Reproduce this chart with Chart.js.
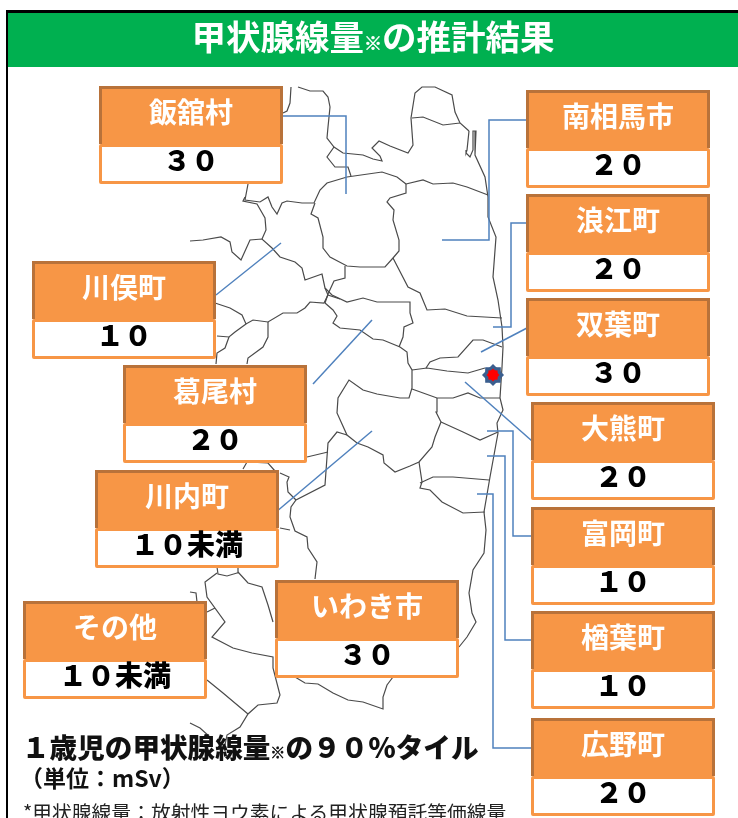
<!DOCTYPE html>
<html lang="ja">
<head>
<meta charset="utf-8">
<title>甲状腺線量の推計結果</title>
<script src="https://cdn.jsdelivr.net/npm/chart.js@4"></script>
<style>
    html, body { margin: 0; padding: 0; background: #fff; width: 738px; height: 818px; overflow: hidden; }
    body { position: relative; font-family: "Noto Sans CJK JP", "Noto Sans", sans-serif; }
    #frame { position: absolute; left: 6px; top: 10px; width: 732px; height: 808px; border-left: 2px solid #000; border-top: 3px solid #000; box-sizing: border-box; }
    #title { position: absolute; left: 8px; top: 13px; width: 730px; height: 54px; background: #00b050; color: #fff; font-size: 34.5px; font-weight: 700; line-height: 45px; text-align: center; }
    #title small { font-size: 18px; -webkit-text-stroke: 0.5px #fff; }
    #heading small { font-size: 15px; -webkit-text-stroke: 0.5px #111; }
    #mapChart { position: absolute; left: 0; top: 0; }
    .box { position: absolute; width: 184px; height: 98px; box-sizing: border-box; text-align: center; font-weight: 700; }
    .box .name { height: 58px; box-sizing: border-box; background: #f79646; color: #fff; border: 3px solid #b8723a; border-bottom: 0; font-size: 28px; line-height: 45px; }
    .box .dose { height: 40px; box-sizing: border-box; background: #fff; color: #000; border: 3px solid #f79646; border-radius: 2px; font-size: 28px; font-weight: 900; line-height: 25px; }
    #heading { position: absolute; left: 22px; top: 727px; font-size: 27.6px; font-weight: 900; line-height: 38px; color: #111; white-space: nowrap; }
    #unit { position: absolute; left: 20px; top: 762px; font-size: 23px; font-weight: 700; line-height: 30px; color: #111; white-space: nowrap; }
    #note { position: absolute; left: 23px; top: 798px; font-size: 19.8px; line-height: 28px; color: #222; white-space: nowrap; }
</style>
</head>
<body>
<div id="frame"></div>
<canvas id="mapChart" width="738" height="818"></canvas>
<div id="title">甲状腺線量<small>※</small>の推計結果</div>
<div id="boxes"></div>
<div id="heading">１歳児の甲状腺線量<small>※</small>の９０％タイル</div>
<div id="unit">（単位：mSv）</div>
<div id="note">*甲状腺線量：放射性ヨウ素による甲状腺預託等価線量</div>

<script>
// Municipalities and their 90th percentile thyroid dose
const towns = ['飯舘村', '南相馬市', '浪江町', '双葉町', '大熊町', '富岡町', '楢葉町', '広野町', '川俣町', '葛尾村', '川内町', 'いわき市', 'その他'];
const doses = ['３０', '２０', '２０', '３０', '２０', '１０', '１０', '２０', '１０', '２０', '１０未満', '３０', '１０未満'];

// Label box corners, same order as towns
const boxLeft = [99, 526, 526, 526, 531, 531, 531, 531, 32, 123, 95, 275, 23];
const boxTop = [86, 90, 194, 298, 402, 507, 611, 718, 261, 365, 470, 580, 601];

// Municipal boundaries (x, y on a 738 x 818 grid)
const coast = [[469,131],[467,150],[466,153],[470,157],[473,150],[473,131],[476,131],[475,155],[485,177],[488,197],[488,217],[496,237],[493,277],[498,300],[502,327],[503,347],[502,367],[500,398],[503,410],[497,423],[498,433],[490,477],[484,512],[486,530],[484,553],[473,570],[469,593],[472,613],[476,622],[467,637],[459,647]];
const iitateNorth = [[291,87],[290,103],[287,111],[283,113]];
const somaWest = [[298,87],[310,91],[323,91],[328,97],[330,107],[328,127],[327,138],[334,147],[343,153],[363,155],[373,159],[382,161],[380,156],[372,148],[379,141],[390,146],[408,153],[413,145],[411,118],[415,93],[422,87],[435,87],[452,95],[455,112],[460,123],[469,131]];
const somaInner = [[412,118],[423,117],[443,125],[460,123]];
const shinchiLoop = [[334,147],[327,157],[335,167],[348,167],[351,176]];
const iitateTop = [[248,184],[245,200],[260,202],[268,197],[272,207],[277,214],[282,203],[287,201],[302,203],[314,203],[320,190],[327,183],[347,177],[382,172],[397,177],[406,184]];
const iitateRing = [[315,203],[311,214],[318,218],[323,237],[323,248],[330,257],[347,266],[360,267],[385,267],[393,258],[399,251],[399,240],[393,220],[394,210],[387,202],[390,198],[406,193],[406,184]];
const minamisomaSouth = [[406,184],[423,180],[433,184],[453,183],[467,187],[488,195]];
const kawamataEast = [[245,197],[243,201],[257,204],[265,218],[266,230],[262,239]];
const kawamataNorth = [[190,241],[203,240],[221,237],[230,242],[232,252],[241,260],[250,240],[262,239],[272,248],[280,257],[295,262],[302,268],[305,280],[322,274],[325,288],[328,295],[340,299]];
const ringDrop = [[345,266],[345,278],[334,281],[328,294],[325,303]];
const namieNorth = [[393,258],[408,287],[420,293],[427,310],[445,309],[467,316],[502,318]];
const namieWest = [[325,288],[332,295],[347,302],[363,298],[377,302],[410,302],[410,313],[413,323],[404,327],[403,337],[399,347]];
const katsuraoNorth = [[215,303],[230,308],[242,315],[246,324],[253,320],[268,322],[283,313],[297,313],[305,308],[310,302],[324,303],[328,295]];
const tamuraA = [[246,324],[235,332],[229,337],[217,336]];
const tamuraB = [[229,337],[225,348],[217,353],[216,364]];
const tamuraC = [[268,322],[268,337],[263,347],[248,358],[247,364]];
const katsuraoRing = [[325,303],[333,310],[337,316],[333,323],[340,328],[360,330],[373,339],[383,340],[400,347],[407,352],[408,363],[412,370],[412,388],[409,398],[400,398],[377,394],[363,390],[349,380],[338,398],[337,413],[347,435],[357,443],[368,447],[383,455],[384,463],[395,472],[410,466],[419,462],[432,447],[435,437],[441,422],[436,412],[437,398]];
const futabaMid = [[412,370],[427,368],[447,371],[468,373],[485,368]];
const futabaNorth = [[426,368],[430,362],[440,358],[458,357],[473,340],[483,340],[502,347]];
const okumaNorth = [[412,389],[437,398],[453,398],[468,393],[480,398],[500,398]];
const okumaSouth = [[441,422],[463,432],[480,440],[498,432]];
const naraha = [[419,462],[422,482],[420,488],[430,490],[442,502],[463,513],[485,512]];
const tomioka = [[420,483],[433,477],[453,477],[489,480]];
const iwakiWest = [[315,579],[317,562],[308,548],[307,537],[295,531],[290,517],[291,507],[296,500],[325,485],[328,443],[337,432],[347,435]];
const kawauchiEdge = [[296,500],[288,492],[287,482],[289,477],[280,473]];
const kawauchiStub = [[290,530],[280,528]];
const katsuraoStub = [[328,452],[307,457]];
const onoTop = [[243,469],[247,462],[268,463],[275,471]];
const belowKawauchi = [[217,567],[218,574],[227,576],[237,573],[238,568]];
const iwakiEast = [[238,572],[248,583],[262,587],[268,605],[273,622]];
const iwakiLower = [[217,573],[205,582],[207,597],[225,622],[212,637],[233,648],[252,653],[273,657],[273,668],[280,695],[277,703],[258,705],[248,714],[240,727],[227,735],[225,745]];
const sonotaA = [[207,680],[223,693],[248,714]];
const sonotaB = [[207,612],[215,608]];
const sonotaC = [[190,592],[196,593],[197,602]];
const sonotaD = [[190,723],[200,728],[210,737]];
const iwakiSouth = [[393,677],[387,685],[383,697],[383,709],[363,702],[348,700],[333,693],[318,684],[305,683],[295,677]];

const boundaries = [coast, iitateNorth, somaWest, somaInner, shinchiLoop, iitateTop, iitateRing, minamisomaSouth, kawamataEast, kawamataNorth, ringDrop, namieNorth, namieWest, katsuraoNorth, tamuraA, tamuraB, tamuraC, katsuraoRing, futabaMid, futabaNorth, okumaNorth, okumaSouth, naraha, tomioka, iwakiWest, kawauchiEdge, kawauchiStub, katsuraoStub, onoTop, belowKawauchi, iwakiEast, iwakiLower, sonotaA, sonotaB, sonotaC, sonotaD, iwakiSouth];

// Leader lines from each box to its municipality
const leadIitate = [[283,116],[346,116],[346,194]];
const leadMinamisoma = [[526,120],[489,120],[489,240],[442,240]];
const leadNamie = [[527,223],[511,223],[511,327],[493,327]];
const leadFutaba = [[527,328],[481,352]];
const leadOkuma = [[532,441],[465,382]];
const leadTomioka = [[487,431],[513,431],[513,536],[531,536]];
const leadNaraha = [[487,456],[505,456],[505,640],[531,640]];
const leadHirono = [[477,494],[493,494],[493,748],[531,748]];
const leadKawamata = [[216,295],[281,243]];
const leadKatsurao = [[313,384],[372,320]];
const leadKawauchi = [[276,512],[372,431]];

const leaders = [leadIitate, leadMinamisoma, leadNamie, leadFutaba, leadOkuma, leadTomioka, leadNaraha, leadHirono, leadKawamata, leadKatsurao, leadKawauchi];

// Fukushima Daiichi plant marker
const plant = [[493,375]];

function toPoints(list) {
    return list.map(p => ({ x: p[0], y: p[1] }));
}

function lineSet(list, color, width) {
    return {
        type: 'line',
        data: toPoints(list),
        borderColor: color,
        borderWidth: width,
        pointRadius: 0,
        fill: false,
        tension: 0
    };
}

function starSet(style, color, radius, edge) {
    return {
        type: 'scatter',
        data: toPoints(plant),
        pointStyle: style,
        pointRadius: radius,
        backgroundColor: color,
        borderColor: color,
        borderWidth: edge
    };
}

// Draw order is reversed: lower order sits on top
const datasets = [
    starSet('rectRot', '#ff0000', 6.5, 0),
    starSet('rect', '#ff0000', 6.5, 0),
    starSet('rectRot', '#3b5f8f', 10, 1.5),
    starSet('rect', '#3b5f8f', 10, 1.5)
];
leaders.forEach(l => datasets.push(lineSet(l, '#4f81bd', 1.5)));
boundaries.forEach(b => datasets.push(lineSet(b, '#4a4a4a', 1.2)));

new Chart(document.getElementById('mapChart'), {
    data: { datasets: datasets },
    options: {
        responsive: false,
        animation: false,
        layout: { padding: 0, autoPadding: false },
        plugins: { legend: { display: false }, tooltip: { enabled: false } },
        scales: {
            x: { type: 'linear', display: false, min: 0, max: 738 },
            y: { type: 'linear', display: false, min: 0, max: 818, reverse: true }
        }
    }
});

// Label boxes
const holder = document.getElementById('boxes');
towns.forEach((town, i) => {
    const box = document.createElement('div');
    box.className = 'box';
    box.style.left = boxLeft[i] + 'px';
    box.style.top = boxTop[i] + 'px';
    box.innerHTML = `<div class="name">${town}</div><div class="dose">${doses[i]}</div>`;
    holder.appendChild(box);
});
</script>
</body>
</html>
